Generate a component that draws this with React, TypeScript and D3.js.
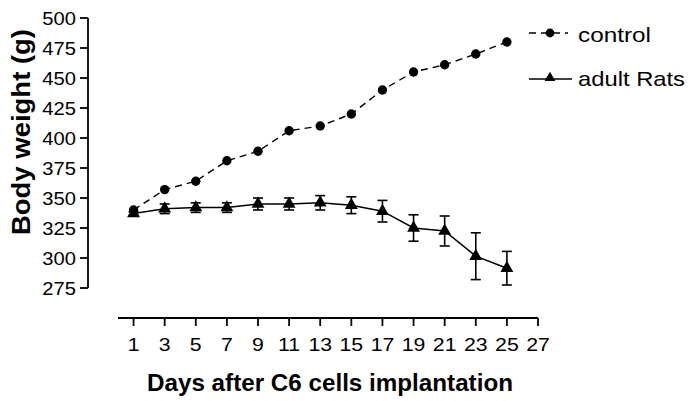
import React from "react";
import * as d3 from "d3";

const days = [1, 3, 5, 7, 9, 11, 13, 15, 17, 19, 21, 23, 25];
const controlWeight = [340, 357, 364, 381, 389, 406, 410, 420, 440, 455, 461, 470, 480];
const adultWeight = [337, 341, 342, 342, 345, 345, 346, 344, 339, 325, 322.5, 301.5, 291.5];
const adultError = [1.5, 4, 4, 4, 5, 5, 6, 7, 9, 11, 12.5, 19.5, 14];
const yTicks = [275, 300, 325, 350, 375, 400, 425, 450, 475, 500];
const xTicks = [1, 3, 5, 7, 9, 11, 13, 15, 17, 19, 21, 23, 25, 27];
const seriesNames = ["control", "adult Rats"];

const W = 693;
const H = 401;
const FONT = "'Liberation Sans', Arial, Helvetica, sans-serif";

export default function App() {
  const x = d3.scaleLinear().domain([0, 27]).range([118, 538]);
  const y = d3.scaleLinear().domain([275, 500]).range([288, 18]);

  const ctrlData = days.map((d, i) => ({ d, v: controlWeight[i] }));
  const adultData = days.map((d, i) => ({ d, v: adultWeight[i], e: adultError[i] }));

  const line = d3
    .line<{ d: number; v: number }>()
    .x((p) => x(p.d))
    .y((p) => y(p.v));

  const tri = d3.symbol().type(d3.symbolTriangle).size(72)();

  const sx = 1.12;

  return (
    <svg
      width={W}
      height={H}
      style={{ position: "absolute", left: 0, top: 0, background: "#fff" }}
      fontFamily={FONT}
    >
      <rect x={0} y={0} width={W} height={H} fill="#fff" />
      {/* Y axis */}
      <line x1={88} x2={88} y1={y(500)} y2={y(275)} stroke="#000" strokeWidth={1.8} />
      {yTicks.map((t) => (
        <g key={"yt" + t}>
          <line x1={80} x2={88} y1={y(t)} y2={y(t)} stroke="#000" strokeWidth={1.8} />
          <text
            transform={`translate(76,${y(t) + 6.5}) scale(${sx},1)`}
            textAnchor="end"
            fontSize={18}
            fill="#000"
          >
            {t}
          </text>
        </g>
      ))}
      {/* X axis */}
      <line x1={x(0)} x2={x(27)} y1={318} y2={318} stroke="#000" strokeWidth={1.8} />
      {xTicks.map((t) => (
        <g key={"xt" + t}>
          <line x1={x(t)} x2={x(t)} y1={318} y2={326} stroke="#000" strokeWidth={1.8} />
          <text
            transform={`translate(${x(t)},351) scale(${sx},1)`}
            textAnchor="middle"
            fontSize={19}
            fill="#000"
          >
            {t}
          </text>
        </g>
      ))}
      {/* Axis titles */}
      <text
        x={330}
        y={391}
        textAnchor="middle"
        fontSize={23}
        fontWeight="bold"
        textLength={366}
        lengthAdjust="spacingAndGlyphs"
      >
        Days after C6 cells implantation
      </text>
      <text
        transform={`translate(30,132) rotate(-90)`}
        textAnchor="middle"
        fontSize={25}
        fontWeight="bold"
        textLength={206}
        lengthAdjust="spacingAndGlyphs"
      >
        Body weight (g)
      </text>

      {/* Control series */}
      <path
        d={line(ctrlData) || ""}
        fill="none"
        stroke="#000"
        strokeWidth={1.4}
        strokeDasharray="7,5"
      />
      {ctrlData.map((p) => (
        <circle key={"c" + p.d} cx={x(p.d)} cy={y(p.v)} r={4.7} fill="#000" />
      ))}

      {/* Adult series */}
      <path d={line(adultData) || ""} fill="none" stroke="#000" strokeWidth={1.5} />
      {adultData.map((p) => (
        <g key={"e" + p.d}>
          <line x1={x(p.d)} x2={x(p.d)} y1={y(p.v + p.e)} y2={y(p.v - p.e)} stroke="#000" strokeWidth={1.6} />
          <line x1={x(p.d) - 5} x2={x(p.d) + 5} y1={y(p.v + p.e)} y2={y(p.v + p.e)} stroke="#000" strokeWidth={1.6} />
          <line x1={x(p.d) - 5} x2={x(p.d) + 5} y1={y(p.v - p.e)} y2={y(p.v - p.e)} stroke="#000" strokeWidth={1.6} />
          <path d={tri || ""} transform={`translate(${x(p.d)},${y(p.v)})`} fill="#000" />
        </g>
      ))}

      {/* Legend */}
      <line x1={529} x2={568} y1={33} y2={33} stroke="#000" strokeWidth={1.4} strokeDasharray="7,5" />
      <circle cx={550} cy={33} r={4.4} fill="#000" />
      <text x={578} y={41.5} fontSize={21} textLength={73} lengthAdjust="spacingAndGlyphs">
        {seriesNames[0]}
      </text>
      <line x1={529} x2={572} y1={79} y2={79} stroke="#000" strokeWidth={1.5} />
      <path d={d3.symbol().type(d3.symbolTriangle).size(50)() || ""} transform="translate(550,78)" fill="#000" />
      <text x={578} y={85.5} fontSize={21} textLength={107} lengthAdjust="spacingAndGlyphs">
        {seriesNames[1]}
      </text>
    </svg>
  );
}
